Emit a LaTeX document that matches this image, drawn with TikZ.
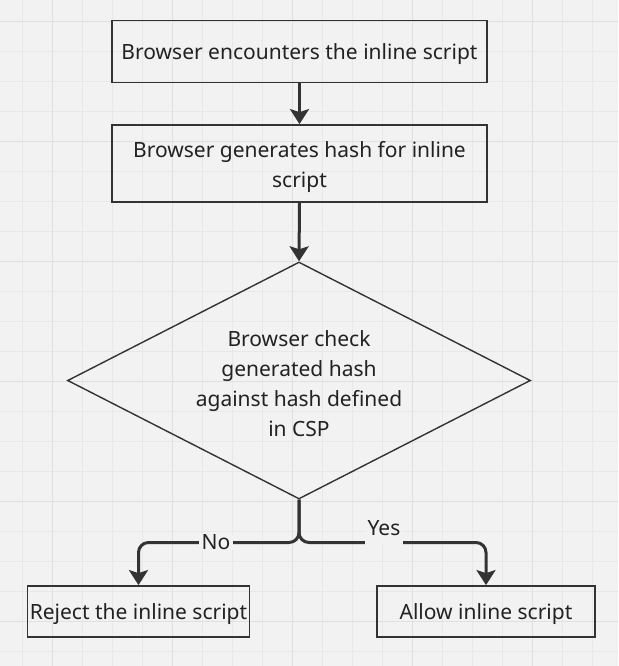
\documentclass[tikz,border=0pt]{standalone}
\usepackage{fontspec}
\setmainfont{Noto Sans}
\usetikzlibrary{shapes.geometric,arrows.meta}
\definecolor{bgc}{HTML}{F2F2F2}
\definecolor{gridminor}{HTML}{E8E8E8}
\definecolor{gridmajor}{HTML}{E0E0E0}
\definecolor{ink}{HTML}{333333}
\definecolor{txt}{HTML}{222222}
\newcommand{\dnline}[1]{\raisebox{-3pt}[\height][\depth]{#1}}
\tikzset{
  boxnode/.style={draw=ink, line width=1.8pt, rectangle, inner sep=0pt, align=center,
    text=txt, font=\fontsize{21}{30}\selectfont},
  decision/.style={draw=ink, line width=1.4pt, diamond, inner sep=0pt, align=center,
    text=txt, font=\fontsize{21}{30}\selectfont, minimum width=463pt, minimum height=237pt, aspect=1.954},
  conn/.style={draw=ink, line width=3pt, -{Stealth[length=15pt,width=19pt,inset=3pt]}},
  lbl/.style={fill=bgc, text=txt, font=\fontsize{21}{30}\selectfont, inner xsep=3pt, inner ysep=0pt}
}
\begin{document}
\begin{tikzpicture}[x=1pt,y=-1pt]
\useasboundingbox (0,0) rectangle (618,666);
\fill[bgc] (0,0) rectangle (618,666);
\foreach \k in {0,...,19} {\draw[gridminor, line width=1pt] ({22.3+30*\k},0) -- ({22.3+30*\k},666);}
\foreach \k in {0,...,21} {\draw[gridminor, line width=1pt] (0,{21.7+30*\k}) -- (618,{21.7+30*\k});}
\foreach \k in {0,...,4} {\draw[gridmajor, line width=1pt] ({52.3+120*\k},0) -- ({52.3+120*\k},666);}
\foreach \k in {0,...,5} {\draw[gridmajor, line width=1pt] (0,{21.7+120*\k}) -- (618,{21.7+120*\k});}

\node[boxnode, minimum width=375pt, minimum height=62pt] (enc) at (299.5,51.5) {\dnline{Browser encounters the inline script}};
\node[boxnode, minimum width=375pt, minimum height=77pt] (gen) at (299.5,163.5) {\dnline{Browser generates hash for inline}\\\dnline{script}};
\node[decision] (chk) at (299,380.5) {\dnline{Browser check}\\\dnline{generated hash}\\\dnline{against hash defined}\\\dnline{in CSP}};
\node[boxnode, minimum width=222pt, minimum height=51pt] (rej) at (138.5,611.5) {\dnline{Reject the inline script}};
\node[boxnode, minimum width=218pt, minimum height=51pt] (alw) at (486,611.5) {\dnline{Allow inline script}};

\coordinate (split) at (299,542.5);
\draw[conn] (enc.south) -- (gen.north);
\draw[conn] (gen.south) -- (chk.north);
\draw[conn, rounded corners=10pt] (chk.south) -- (split) -| (rej.north);
\draw[conn, rounded corners=10pt] (chk.south) -- (split) -| (alw.north);

\node[lbl] (no) at (216,542.5) {No};
\node[lbl, anchor=base, text height=16pt, text depth=10pt] (yes) at (384,535) {Yes};
\end{tikzpicture}
\end{document}
